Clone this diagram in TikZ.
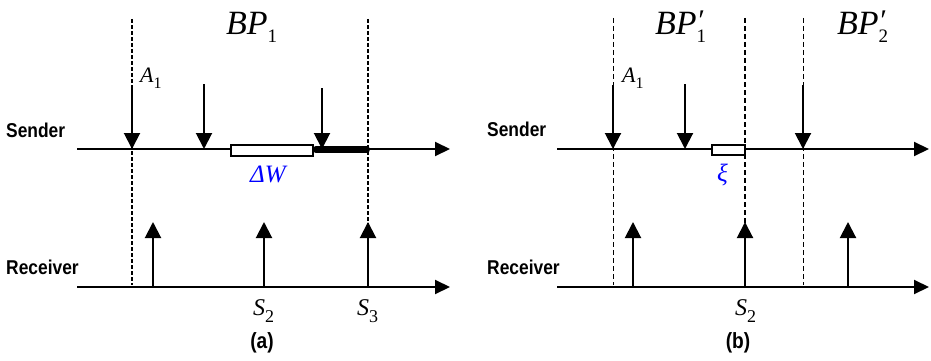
\documentclass[tikz,border=0pt]{standalone}
\usepackage{fontspec}
\setmainfont{Liberation Serif}
\newfontfamily\arialf{Liberation Sans}
\usetikzlibrary{arrows.meta}
\newcommand{\sidelab}[1]{\scalebox{0.87}[1]{#1}}
\newcommand{\mbigtxt}[1]{{\fontsize{34}{34}\selectfont\itshape #1}}
\newcommand{\mbigsub}[1]{\raisebox{-8pt}{\fontsize{19}{19}\selectfont #1}}
\newcommand{\mmidtxt}[1]{{\fontsize{22}{22}\selectfont\itshape #1}}
\newcommand{\mmidsub}[1]{\raisebox{-6.5pt}{\fontsize{16}{16}\selectfont #1}}
\newcommand{\mstxt}[1]{{\fontsize{24}{24}\selectfont\itshape #1}}
\newcommand{\mssub}[1]{\raisebox{-7pt}{\fontsize{18}{18}\selectfont #1}}
\newcommand{\mbprime}{\rlap{\raisebox{5pt}{\fontsize{30}{30}\selectfont\itshape ′}}}
\begin{document}
\begin{tikzpicture}[x=1pt,y=-1pt,
  axis/.style={line width=2pt,-{Triangle[width=14pt,length=15pt]}},
  evt/.style={line width=2pt,-{Triangle[width=16pt,length=16pt]}},
  bnda/.style={line width=2pt,dash pattern=on 4pt off 2pt},
  bndb/.style={line width=1pt,dash pattern=on 5pt off 3pt},
  lab/.style={inner sep=0pt,anchor=base west},
  side/.style={inner sep=0pt,anchor=base west,font=\arialf\bfseries\fontsize{20}{20}\selectfont},
  caplab/.style={inner sep=0pt,anchor=base,font=\arialf\bfseries\fontsize{22}{22}\selectfont},
  gap/.style={draw=black,line width=1.2pt,fill=white},
  bluelab/.style={inner sep=0pt,anchor=base west,text=blue}
]
\useasboundingbox (0,0) rectangle (931,361);

% ---------------- panel (a) ----------------
\coordinate (aS0) at (77,149);  \coordinate (aS1) at (450,149);
\coordinate (aR0) at (77,287);  \coordinate (aR1) at (450,287);
\coordinate (aL0) at (132,19);  \coordinate (aL1) at (132,285);
\coordinate (aM0) at (368,19);  \coordinate (aM1) at (368,287);
\coordinate (aA1t) at (132,85);  \coordinate (aA1b) at (132,149);
\coordinate (aA2t) at (204,84);  \coordinate (aA2b) at (204,149);
\coordinate (aA3t) at (322,88);  \coordinate (aA3b) at (322,149);
\coordinate (aB0) at (316,149.5); \coordinate (aB1) at (366.5,149.5);
\coordinate (aW0) at (231,145); \coordinate (aW1) at (313,156);
\coordinate (aR1b) at (153,287); \coordinate (aR1t) at (153,222);
\coordinate (aR2b) at (264,287); \coordinate (aR2t) at (264,222);
\coordinate (aR3b) at (368,287); \coordinate (aR3t) at (368,222);

\draw[bnda] (aL0) -- (aL1);
\draw[bnda] (aM0) -- (aM1);
\draw[axis] (aS0) -- (aS1);
\draw[axis] (aR0) -- (aR1);
\draw[line width=7pt,line cap=round] (aB0) -- (aB1);
\draw[gap] (aW0) rectangle (aW1);
\draw[evt] (aA1t) -- (aA1b);
\draw[evt] (aA2t) -- (aA2b);
\draw[evt] (aA3t) -- (aA3b);
\draw[evt] (aR1b) -- (aR1t);
\draw[evt] (aR2b) -- (aR2t);
\draw[evt] (aR3b) -- (aR3t);

\node[lab] (aBP) at (226,35) {\mbigtxt{BP}\mbigsub{1}};
\node[lab] (aA) at (140,82) {\mmidtxt{A}\mmidsub{1}};
\node[lab] (aS2) at (253,315) {\mstxt{S}\mssub{2}};
\node[lab] (aS3) at (357,315) {\mstxt{S}\mssub{3}};
\node[bluelab,font=\fontsize{25}{25}\selectfont\itshape] (aDW) at (250,182) {ΔW};
\node[side] (aSend) at (6,137) {\sidelab{Sender}};
\node[side] (aRecv) at (6,274) {\sidelab{Receiver}};
\node[caplab] (acap) at (262,348) {\sidelab{(a)}};

% ---------------- panel (b) ----------------
\coordinate (bS0) at (557,149);  \coordinate (bS1) at (929,149);
\coordinate (bR0) at (557,287);  \coordinate (bR1) at (929,287);
\coordinate (bL0) at (613,18);  \coordinate (bL1) at (613,285);
\coordinate (bM0) at (745,18);  \coordinate (bM1) at (745,285);
\coordinate (bN0) at (803,18);  \coordinate (bN1) at (803,285);
\coordinate (bA1t) at (613,85);  \coordinate (bA1b) at (613,149);
\coordinate (bA2t) at (685,84);  \coordinate (bA2b) at (685,149);
\coordinate (bA3t) at (803,85);  \coordinate (bA3b) at (803,149);
\coordinate (bX0) at (712,145); \coordinate (bX1) at (745,155);
\coordinate (bR1b) at (633,287); \coordinate (bR1t) at (633,222);
\coordinate (bR2b) at (745,287); \coordinate (bR2t) at (745,222);
\coordinate (bR3b) at (848,287); \coordinate (bR3t) at (848,222);

\draw[bndb] (bL0) -- (bL1);
\draw[bndb,line width=1.4pt] (bM0) -- (bM1);
\draw[bndb] (bN0) -- (bN1);
\draw[axis] (bS0) -- (bS1);
\draw[axis] (bR0) -- (bR1);
\draw[gap] (bX0) rectangle (bX1);
\draw[evt] (bA1t) -- (bA1b);
\draw[evt] (bA2t) -- (bA2b);
\draw[evt] (bA3t) -- (bA3b);
\draw[evt] (bR1b) -- (bR1t);
\draw[evt] (bR2b) -- (bR2t);
\draw[evt] (bR3b) -- (bR3t);

\node[lab] (bBP1) at (655,35) {\mbigtxt{BP}\mbprime\mbigsub{1}};
\node[lab] (bBP2) at (837,35) {\mbigtxt{BP}\mbprime\mbigsub{2}};
\node[lab] (bA) at (622,82) {\mmidtxt{A}\mmidsub{1}};
\node[lab] (bS2) at (735,315) {\mstxt{S}\mssub{2}};
\node[bluelab,font=\fontsize{25}{25}\selectfont\itshape] (bXi) at (717,181) {ξ};
\node[side] (bSend) at (487,136) {\sidelab{Sender}};
\node[side] (bRecv) at (487,274) {\sidelab{Receiver}};
\node[caplab] (bcap) at (738,348) {\sidelab{(b)}};
\end{tikzpicture}
\end{document}
